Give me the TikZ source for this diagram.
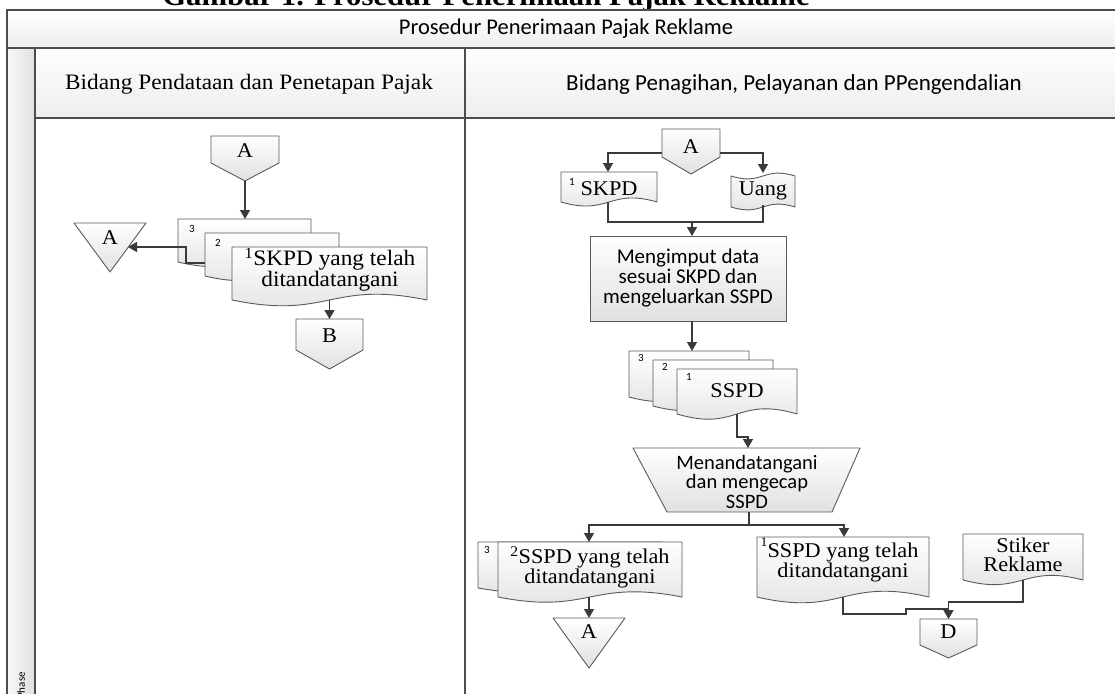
\documentclass[tikz,border=0pt]{standalone}
\usepackage{fontspec}
\setmainfont{Liberation Serif}
\newfontfamily\serifw[FakeStretch=1.06]{Liberation Serif}
\newfontfamily\calfont{Carlito}
\usetikzlibrary{arrows.meta}
\definecolor{lnc}{HTML}{3A3A3A}
\definecolor{bdc}{HTML}{5A5A5A}
\definecolor{frc}{HTML}{4D4D4D}
\tikzset{
 shp/.style={draw=bdc, line width=0.9pt, top color=white, bottom color=black!12, line join=round},
 conn/.style={draw=lnc, line width=1.5pt},
 arr/.style={conn, -{Triangle[length=9pt,width=10pt]}},
 frame/.style={draw=frc, line width=1.3pt},
 band/.style={frame, top color=white, bottom color=black!7},
 sr/.style={font=\serifw\fontsize{21}{19}\selectfont, align=center, inner sep=0pt},
 srl/.style={font=\serifw\fontsize{22}{19}\selectfont, align=center, inner sep=0pt},
 ss/.style={font=\calfont\fontsize{21}{20}\selectfont, align=center, inner sep=0pt},
 num/.style={font=\calfont\fontsize{11}{11}\selectfont, inner sep=0pt},
 lbl/.style={font=\serifw\fontsize{21}{21}\selectfont, inner sep=0pt},
 procbox/.style={draw=bdc, line width=0.9pt, top color=white, bottom color=black!12, inner sep=0pt},
}
\newcommand{\docpath}[5]{\path[shp] (#1,#2) -- (#3,#2) -- (#3,#4) .. controls ({(#1+#3)/2},{#4-2*#5}) and ({(#1+#3)/2},{#4+2*#5}) .. (#1,#4) -- cycle;}
\newcommand{\tapepath}[5]{\path[shp] (#1,#2) .. controls ({(#1+#3)/2},{#2+2*#5}) and ({(#1+#3)/2},{#2-2*#5}) .. (#3,#2) -- (#3,#4) .. controls ({(#1+#3)/2},{#4-2*#5}) and ({(#1+#3)/2},{#4+2*#5}) .. (#1,#4) -- cycle;}
\newcommand{\offpg}[5]{\path[shp] (#1,#2) -- (#3,#2) -- (#3,#4) -- ({(#1+#3)/2},#5) -- (#1,#4) -- cycle;}
\newcommand{\trishape}[4]{\path[shp] (#1,#2) -- (#3,#2) -- ({(#1+#3)/2},#4) -- cycle;}
\begin{document}
\begin{tikzpicture}[x=1pt,y=-1pt]
\useasboundingbox (0,0) rectangle (1115,693);
\clip (0,0) rectangle (1115,693);
% cut title
\node[font=\serifw\bfseries\fontsize{29}{29}\selectfont, anchor=base, inner sep=0pt] (title) at (486,6) {Gambar 1. Prosedur Penerimaan Pajak Reklame};
% frame
\path[band] (7,10) rectangle (1125,48);
\node[font=\calfont\fontsize{22.5}{22.5}\selectfont, inner sep=0pt] (ttl) at (566,29) {Prosedur Penerimaan Pajak Reklame};
\path[frame, left color=black!3, right color=black!12] (7,48) rectangle (35,710);
\path[band] (35,48) rectangle (465,118);
\path[band] (465,48) rectangle (1125,118);
\draw[frame] (35,118) rectangle (465,710);
\draw[frame] (465,118) rectangle (1125,710);
\node[font=\serifw\fontsize{22}{22}\selectfont, inner sep=0pt] (h1) at (249,84) {Bidang Pendataan dan Penetapan Pajak};
\node[font=\calfont\fontsize{23}{23}\selectfont, inner sep=0pt] (h2) at (794,84) {Bidang Penagihan, Pelayanan dan PPengendalian};
\node[font=\calfont\fontsize{11}{11}\selectfont, rotate=90, anchor=east, inner sep=0pt] (ph) at (21,672) {Phase};
% ---------- left lane
\offpg{211}{136}{279}{163}{181}
\node[lbl] (LA) at (245,151) {A};
\docpath{178}{219}{311}{262}{8}
\node[num] (n3a) at (192,229) {3};
\docpath{205}{233}{339}{276}{8}
\node[num] (n2a) at (218,243) {2};
\docpath{232}{247}{427}{300}{10}
\node[srl] (LD) at (330,270) {\textsuperscript{1}SKPD yang telah\\ditandatangani};
\coordinate (LAp) at (245,181);
\coordinate (LDt) at (245,219);
\draw[arr] (LAp) -- (LDt);
\trishape{74}{223}{146}{272}
\node[lbl] (LT) at (110,238) {A};
\coordinate (LDw) at (205,263);
\coordinate (LTe) at (128,247);
\draw[arr] (LDw) -- ++(-19,0) |- (LTe);
\offpg{296}{319}{363}{350}{369}
\node[lbl] (LB) at (329.5,336) {B};
\coordinate (LDb) at (329.5,300);
\coordinate (LBt) at (329.5,319);
\draw[arr] (LDb) -- (LBt);
% ---------- right lane
\offpg{662}{129}{720}{157}{174}
\node[lbl] (RA) at (691,147) {A};
\coordinate (RAw) at (662,153);
\coordinate (RAe) at (720,153);
\docpath{561}{172}{657}{202}{7}
\node[num] (n1s) at (572,182) {1};
\node[sr] (RS) at (609,189) {SKPD};
\tapepath{731}{176}{795}{207}{5}
\node[sr] (RU) at (763,191) {Uang};
\coordinate (RSt) at (608,172);
\coordinate (RUt) at (763,173);
\draw[arr] (RAw) -| (RSt);
\draw[arr] (RAe) -| (RUt);
\node[procbox, minimum width=196pt, minimum height=85pt] (P) at (688,278.5) {};
\node[ss] (Pt) at (688,278.5) {Mengimput data\\sesuai SKPD dan\\mengeluarkan SSPD};
\coordinate (RSb) at (608,202);
\coordinate (RUb) at (763,205);
\coordinate (J) at (692,222);
\coordinate (Pn) at (692,236);
\draw[conn] (RSb) |- (J);
\draw[conn] (RUb) |- (J);
\draw[arr] (J) -- (Pn);
\docpath{629}{351}{749}{397}{8}
\node[num] (n3b) at (641,358) {3};
\docpath{653}{360}{773}{406}{8}
\node[num] (n2b) at (665,367) {2};
\docpath{677}{369}{797}{414}{9}
\node[num] (n1b) at (689,377) {1};
\node[sr] (SS) at (737,391) {SSPD};
\coordinate (Pb) at (692,321);
\coordinate (SSt) at (692,351);
\draw[arr] (Pb) -- (SSt);
\path[shp] (633,448) -- (860,448) -- (832,512) -- (667,512) -- cycle;
\node[ss, font=\calfont\fontsize{20.5}{19.5}\selectfont] (M) at (747,481.5) {Menandatangani\\dan mengecap\\SSPD};
\coordinate (SSb) at (737,414);
\coordinate (Mt) at (748,448);
\draw[arr] (SSb) -- ++(0,23) -| (Mt);
\coordinate (Mb) at (749,512);
\coordinate (S) at (749,525);
\coordinate (BLt) at (589,542);
\coordinate (BRt) at (844,537);
\draw[conn] (Mb) -- (S);
\draw[arr] (S) -| (BLt);
\draw[arr] (S) -| (BRt);
\docpath{478}{542}{662}{588}{8}
\node[num] (n3c) at (487,550) {3};
\docpath{498}{542}{682}{597}{9}
\node[sr] (BL) at (590,567.5) {\textsuperscript{2}SSPD yang telah\\ditandatangani};
\trishape{553}{618}{625}{668}
\node[lbl] (BA) at (589,632) {A};
\coordinate (BLb) at (589,597);
\coordinate (BAt) at (589,618);
\draw[arr] (BLb) -- (BAt);
\docpath{757}{537}{929}{597}{10}
\node[sr] (BR) at (843,562.5) {SSPD yang telah\\ditandatangani};
\node[font=\serifw\fontsize{13}{13}\selectfont, inner sep=0pt] (n1c) at (764,542) {1};
\docpath{963}{534}{1083}{580}{8}
\node[sr] (ST) at (1023,554.5) {Stiker\\Reklame};
\offpg{920}{619}{977}{645}{658}
\node[lbl] (D) at (948.5,632) {D};
\coordinate (BRb) at (843,597);
\coordinate (hop) at (906,614);
\coordinate (jn) at (948.5,609);
\coordinate (STb) at (1023,580);
\coordinate (jn2) at (948.5,602);
\coordinate (Dt) at (948.5,619);
\draw[conn] (BRb) |- (hop) |- (jn);
\draw[arr] (STb) |- (jn2) -- (Dt);
\end{tikzpicture}
\end{document}
